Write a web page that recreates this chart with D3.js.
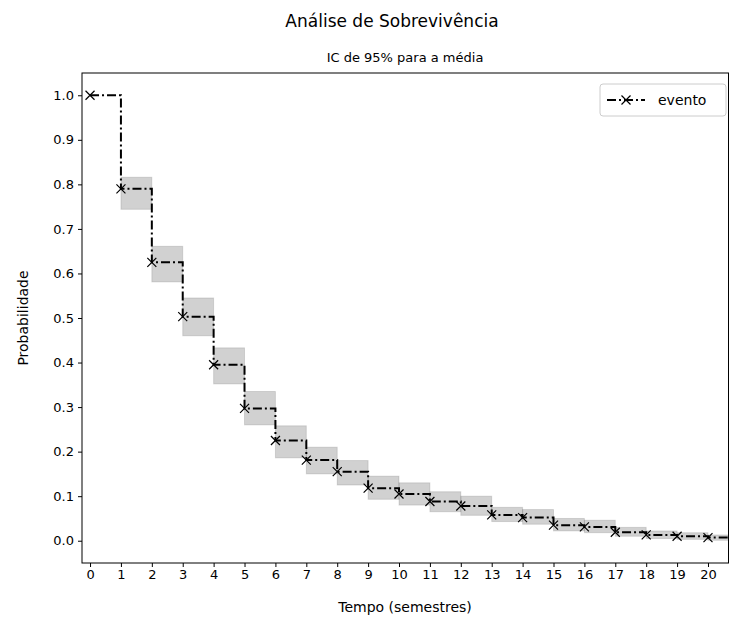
<!DOCTYPE html>
<html>
<head>
<meta charset="utf-8">
<script src="https://d3js.org/d3.v7.min.js"></script>
<style>
body{margin:0;background:#fff;font-family:"DejaVu Sans",sans-serif;}
</style>
</head>
<body>
<div id="chart"></div>
<script>
// Survival data
var times = [0,1,2,3,4,5,6,7,8,9,10,11,12,13,14,15,16,17,18,19,20];
var surv = [1.0,0.79,0.625,0.503,0.395,0.297,0.225,0.181,0.155,0.118,0.105,0.088,0.078,0.058,0.052,0.035,0.031,0.019,0.013,0.010,0.007];
var ciUpper = [1.0,0.816,0.661,0.545,0.433,0.335,0.258,0.21,0.18,0.145,0.13,0.11,0.1,0.075,0.07,0.05,0.046,0.03,0.022,0.018,0.013];
var ciLower = [1.0,0.744,0.581,0.46,0.352,0.26,0.186,0.15,0.125,0.093,0.08,0.065,0.057,0.043,0.037,0.022,0.018,0.01,0.005,0.003,0.001];
var yTicks = [0,0.1,0.2,0.3,0.4,0.5,0.6,0.7,0.8,0.9,1.0];

var W = 729, H = 621;
var m = {left:82, right:0, top:73, bottom:58};
var svg = d3.select("#chart").append("svg").attr("width",W).attr("height",H);

var x = d3.scaleLinear().domain([-0.26,20.68]).range([m.left, W-m.right]);
var y = d3.scaleLinear().domain([-0.05,1.05]).range([H-m.bottom, m.top]);

// CI bands (step post)
var g = svg.append("g");
times.forEach(function(t,i){
    g.append("rect")
        .attr("x", x(t)).attr("width", x(t+1)-x(t))
        .attr("y", y(ciUpper[i])).attr("height", y(ciLower[i])-y(ciUpper[i]))
        .attr("fill","#000").attr("fill-opacity",0.18)
        .attr("stroke","#000").attr("stroke-opacity",0.12);
});

// step line
var pts = times.map((t,i)=>[t,surv[i]]);
pts.push([20.68, surv[surv.length-1]]);
var line = d3.line().x(d=>x(d[0])).y(d=>y(d[1])).curve(d3.curveStepAfter);
g.append("path").attr("d",line(pts)).attr("fill","none").attr("stroke","#000")
    .attr("stroke-width",2).attr("stroke-dasharray","9,3,2,3");

// markers
times.forEach(function(t,i){
    var cx=x(t), cy=y(surv[i]), s=4.5;
    g.append("path").attr("d",`M${cx-s},${cy-s}L${cx+s},${cy+s}M${cx-s},${cy+s}L${cx+s},${cy-s}`)
        .attr("stroke","#000").attr("stroke-width",1.2);
});

// frame
svg.append("rect").attr("x",m.left).attr("y",m.top).attr("width",W-m.right-m.left-0.5)
    .attr("height",H-m.bottom-m.top).attr("fill","none").attr("stroke","#000");

// axes
var xa = svg.append("g").attr("transform",`translate(0,${H-m.bottom})`)
    .call(d3.axisBottom(x).tickValues(times).tickSize(4).tickPadding(3).tickFormat(d3.format("d")));
var ya = svg.append("g").attr("transform",`translate(${m.left},0)`)
    .call(d3.axisLeft(y).tickValues(yTicks).tickSize(4).tickPadding(4).tickFormat(d3.format(".1f")));
[xa,ya].forEach(a=>{a.select(".domain").remove();a.selectAll("text").style("font-size","13px").style("font-family","DejaVu Sans").attr("fill","#000");});

// titles
svg.append("text").attr("x",392).attr("y",27).attr("text-anchor","middle").style("font-size","17px").text("Análise de Sobrevivência");
svg.append("text").attr("x",405).attr("y",62).attr("text-anchor","middle").style("font-size","13px").text("IC de 95% para a média");
svg.append("text").attr("x",405).attr("y",612).attr("text-anchor","middle").style("font-size","14px").text("Tempo (semestres)");
svg.append("text").attr("transform","translate(28,318) rotate(-90)").attr("text-anchor","middle").style("font-size","14px").text("Probabilidade");

// legend
var lg = svg.append("g");
lg.append("rect").attr("x",600).attr("y",84).attr("width",126).attr("height",32).attr("rx",3)
    .attr("fill","#fff").attr("stroke","#ccc");
lg.append("line").attr("x1",607).attr("x2",645).attr("y1",100).attr("y2",100).attr("stroke","#000")
    .attr("stroke-width",2).attr("stroke-dasharray","9,3,2,3");
lg.append("path").attr("d","M621.5,95.5L630.5,104.5M621.5,104.5L630.5,95.5").attr("stroke","#000").attr("stroke-width",1.2);
lg.append("text").attr("x",658).attr("y",105).style("font-size","14px").text("evento");
</script>
</body>
</html>
